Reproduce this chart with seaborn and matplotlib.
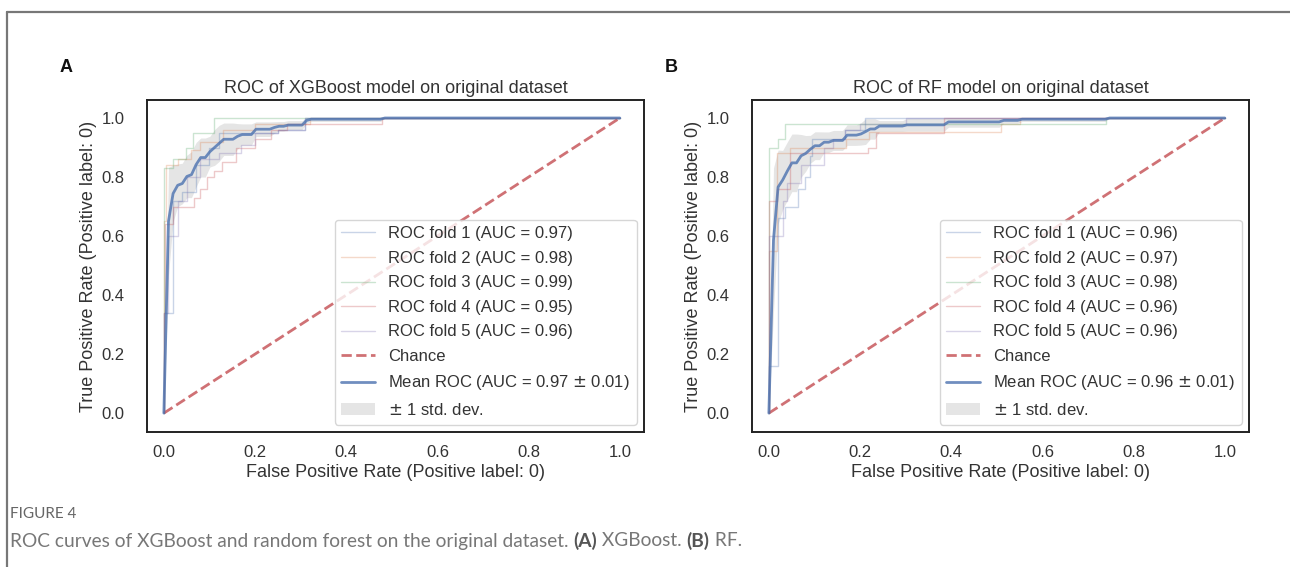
import numpy as np
import matplotlib
matplotlib.use("Agg")
import matplotlib.pyplot as plt
import seaborn as sns
from matplotlib.lines import Line2D

# ---------------- data ----------------
fold_names = ["ROC fold 1", "ROC fold 2", "ROC fold 3", "ROC fold 4", "ROC fold 5"]

# Panel A: XGBoost (step corners)
xgb_fpr_1 = [0, 0, 0.02, 0.02, 0.04, 0.04, 0.07, 0.07, 0.10, 0.10, 0.12, 0.12, 0.25, 0.25, 0.31, 0.31, 1.0]
xgb_tpr_1 = [0, 0.34, 0.34, 0.72, 0.72, 0.75, 0.75, 0.84, 0.84, 0.90, 0.90, 0.95, 0.95, 0.96, 0.96, 1.0, 1.0]
xgb_fpr_2 = [0, 0, 0.005, 0.005, 0.03, 0.03, 0.06, 0.06, 0.08, 0.08, 0.13, 0.13, 0.20, 0.20, 0.32, 0.32, 1.0]
xgb_tpr_2 = [0, 0.65, 0.65, 0.84, 0.84, 0.86, 0.86, 0.89, 0.89, 0.92, 0.92, 0.96, 0.96, 0.98, 0.98, 1.0, 1.0]
xgb_fpr_3 = [0, 0, 0.02, 0.02, 0.048, 0.048, 0.064, 0.064, 0.11, 0.11, 1.0]
xgb_tpr_3 = [0, 0.83, 0.83, 0.86, 0.86, 0.90, 0.90, 0.95, 0.95, 1.0, 1.0]
xgb_fpr_4 = [0, 0, 0.003, 0.003, 0.02, 0.02, 0.065, 0.065, 0.08, 0.08, 0.095, 0.095, 0.11, 0.11,
             0.128, 0.128, 0.158, 0.158, 0.20, 0.20, 0.234, 0.234, 0.27, 0.27, 0.478, 0.478, 1.0]
xgb_tpr_4 = [0, 0.34, 0.34, 0.64, 0.64, 0.70, 0.70, 0.73, 0.73, 0.76, 0.76, 0.80, 0.80, 0.82,
             0.82, 0.85, 0.85, 0.90, 0.90, 0.93, 0.93, 0.96, 0.96, 0.98, 0.98, 1.0, 1.0]
xgb_fpr_5 = [0, 0, 0.01, 0.01, 0.03, 0.03, 0.05, 0.05, 0.08, 0.08, 0.12, 0.12, 0.17, 0.17,
             0.20, 0.20, 0.25, 0.25, 0.31, 0.31, 1.0]
xgb_tpr_5 = [0, 0.34, 0.34, 0.60, 0.60, 0.72, 0.72, 0.80, 0.80, 0.86, 0.86, 0.88, 0.88, 0.91,
             0.91, 0.95, 0.95, 0.96, 0.96, 1.0, 1.0]
xgb_aucs = [0.97, 0.98, 0.99, 0.95, 0.96]
xgb_mean_label = "Mean ROC (AUC = 0.97 $\\pm$ 0.01)"

# Panel B: Random forest
rf_fpr_1 = [0, 0, 0.019, 0.019, 0.035, 0.035, 0.064, 0.064, 0.08, 0.08, 0.09, 0.09, 0.095, 0.095,
            0.166, 0.166, 0.21, 0.21, 1.0]
rf_tpr_1 = [0, 0.16, 0.16, 0.66, 0.66, 0.70, 0.70, 0.76, 0.76, 0.80, 0.80, 0.87, 0.87, 0.93,
            0.93, 0.96, 0.96, 1.0, 1.0]
rf_fpr_2 = [0, 0, 0.017, 0.017, 0.046, 0.046, 0.17, 0.17, 0.22, 0.22, 0.51, 0.51, 0.55, 0.55, 1.0]
rf_tpr_2 = [0, 0.55, 0.55, 0.88, 0.88, 0.90, 0.90, 0.93, 0.93, 0.954, 0.954, 0.98, 0.98, 1.0, 1.0]
rf_fpr_3 = [0, 0, 0.019, 0.019, 0.035, 0.035, 0.74, 0.74, 1.0]
rf_tpr_3 = [0, 0.90, 0.90, 0.93, 0.93, 0.98, 0.98, 1.0, 1.0]
rf_fpr_4 = [0, 0, 0.017, 0.017, 0.046, 0.046, 0.217, 0.217, 0.236, 0.236, 0.385, 0.385, 1.0]
rf_tpr_4 = [0, 0.72, 0.72, 0.76, 0.76, 0.88, 0.88, 0.90, 0.90, 0.95, 0.95, 1.0, 1.0]
rf_fpr_5 = [0, 0, 0.03, 0.03, 0.04, 0.04, 0.07, 0.07, 0.12, 0.12, 0.14, 0.14, 0.166, 0.166,
            0.20, 0.20, 0.30, 0.30, 1.0]
rf_tpr_5 = [0, 0.60, 0.60, 0.72, 0.72, 0.78, 0.78, 0.84, 0.84, 0.90, 0.90, 0.93, 0.93, 0.96,
            0.96, 0.98, 0.98, 1.0, 1.0]
rf_aucs = [0.96, 0.97, 0.98, 0.96, 0.96]
rf_mean_label = "Mean ROC (AUC = 0.96 $\\pm$ 0.01)"

titles = ["ROC of XGBoost model on original dataset", "ROC of RF model on original dataset"]
panel_letters = ["A", "B"]
xlabel = "False Positive Rate (Positive label: 0)"
ylabel = "True Positive Rate (Positive label: 0)"
fig_label = "FIGURE 4"
caption = "ROC curves of XGBoost and random forest on the original dataset."

# ---------------- style ----------------
sns.set_theme(style="white", context="notebook")
plt.rcParams['font.family'] = ['Liberation Sans', 'DejaVu Sans']
pal = sns.color_palette("deep")
TXT = "#333333"

fig = plt.figure(figsize=(12.9, 5.67), dpi=100)

panels = [
    ([(xgb_fpr_1, xgb_tpr_1), (xgb_fpr_2, xgb_tpr_2), (xgb_fpr_3, xgb_tpr_3),
      (xgb_fpr_4, xgb_tpr_4), (xgb_fpr_5, xgb_tpr_5)], xgb_aucs, xgb_mean_label),
    ([(rf_fpr_1, rf_tpr_1), (rf_fpr_2, rf_tpr_2), (rf_fpr_3, rf_tpr_3),
      (rf_fpr_4, rf_tpr_4), (rf_fpr_5, rf_tpr_5)], rf_aucs, rf_mean_label),
]

W, H = 1290, 567
axes_px = [(147, 100, 644, 432), (752, 100, 1249, 432)]

for i, (folds, aucs, mean_label) in enumerate(panels):
    x0, y0, x1, y1 = axes_px[i]
    ax = fig.add_axes([x0 / W, 1 - y1 / H, (x1 - x0) / W, (y1 - y0) / H])
    mean_fpr = np.linspace(0, 1, 100)
    tprs = []
    for k, (fpr, tpr) in enumerate(folds):
        sns.lineplot(x=fpr, y=tpr, ax=ax, color=pal[k], lw=1, alpha=0.3,
                     sort=False, estimator=None,
                     label=f"{fold_names[k]} (AUC = {aucs[k]:.2f})")
        it = np.interp(mean_fpr, fpr, tpr)
        it[0] = 0.0
        tprs.append(it)
    sns.lineplot(x=[0, 1], y=[0, 1], ax=ax, color=pal[3], lw=2, alpha=0.8,
                 linestyle="--", label="Chance", sort=False, estimator=None)
    mean_tpr = np.mean(tprs, axis=0)
    mean_tpr[-1] = 1.0
    std_tpr = np.std(tprs, axis=0)
    sns.lineplot(x=mean_fpr, y=mean_tpr, ax=ax, color=pal[0], lw=2, alpha=0.8,
                 label=mean_label, sort=False, estimator=None)
    ax.fill_between(mean_fpr, np.maximum(mean_tpr - std_tpr, 0),
                    np.minimum(mean_tpr + std_tpr, 1), color="grey", alpha=0.2,
                    lw=0, label=r"$\pm$ 1 std. dev.")
    ax.set_xlim(-0.037, 1.053)
    ax.set_ylim(-0.064, 1.061)
    ax.set_xticks([0, 0.2, 0.4, 0.6, 0.8, 1.0])
    ax.set_yticks([0, 0.2, 0.4, 0.6, 0.8, 1.0])
    ax.tick_params(labelsize=12, colors=TXT)
    ax.tick_params(axis="y", pad=10)
    ax.set_xlabel(xlabel, fontsize=13, color=TXT, labelpad=3)
    ax.set_ylabel(ylabel, fontsize=13, color=TXT, labelpad=3)
    ax.set_title(titles[i], fontsize=13, color=TXT, pad=5)
    for s in ax.spines.values():
        s.set_color("#222222")
        s.set_linewidth(1.4)
    ax.legend(loc="lower right", fontsize=12, labelcolor=TXT, borderaxespad=0.45,
              labelspacing=0.57)
    fig.text((x0 - 87) / W, 1 - 68 / H, panel_letters[i], fontsize=13, fontweight="bold",
             ha="left", va="center", color="#111111")

# page frame
fig.add_artist(Line2D([7 / W, 1.0], [1 - 12 / H, 1 - 12 / H], color="#777777", lw=1.6))
fig.add_artist(Line2D([7 / W, 7 / W], [0, 1 - 12 / H], color="#777777", lw=1.6))

CF = ["Lato", "DejaVu Sans"]
CS = 13.8
fig.text(10 / W, 1 - 514 / H, fig_label, fontsize=11, color="#666666",
         family=CF, va="center")
cap = fig.text(10 / W, 1 - 541 / H, caption + " ", fontsize=CS, color="#777777",
               family=CF, va="center")
fig.canvas.draw()
bb = cap.get_window_extent()
t2 = fig.text(bb.x1 / W, 1 - 541 / H, "(A)", fontsize=CS, color="#555555", fontweight="bold",
              family=CF, va="center")
bb = t2.get_window_extent()
t3 = fig.text(bb.x1 / W, 1 - 541 / H, " XGBoost. ", fontsize=CS, color="#777777",
              family=CF, va="center")
bb = t3.get_window_extent()
t4 = fig.text(bb.x1 / W, 1 - 541 / H, "(B)", fontsize=CS, color="#555555", fontweight="bold",
              family=CF, va="center")
bb = t4.get_window_extent()
fig.text(bb.x1 / W, 1 - 541 / H, " RF.", fontsize=CS, color="#777777",
         family=CF, va="center")

fig.savefig("out.png", dpi=100)
